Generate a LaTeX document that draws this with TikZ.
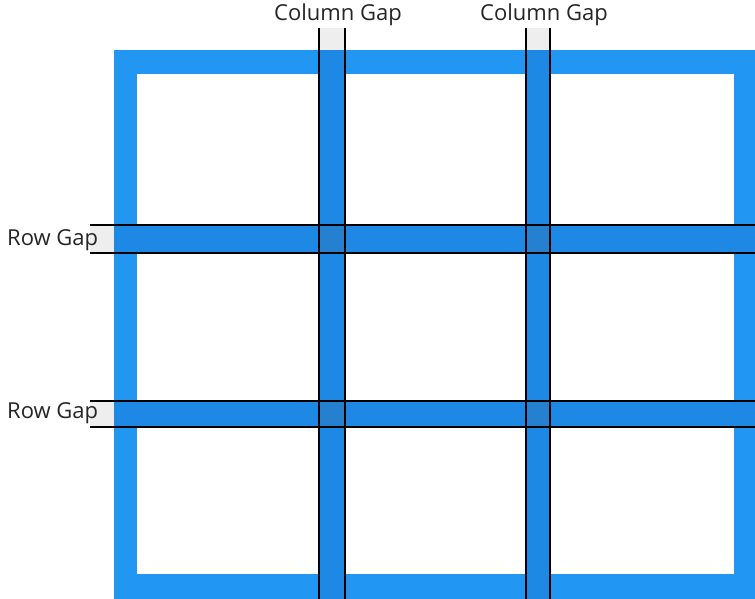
\documentclass[tikz,border=0pt]{standalone}
\usepackage{fontspec}
\setmainfont{Open Sans}
\definecolor{framec}{HTML}{2196F3}
\definecolor{gapc}{HTML}{1E88E5}
\definecolor{crossc}{HTML}{2680D0}
\definecolor{greyc}{HTML}{EEEEEE}
\begin{document}
\begin{tikzpicture}[x=1pt,y=-1pt,
  gapline/.style={draw=black,line width=2.3pt},
  lbl/.style={font=\fontsize{22}{26}\selectfont,text=black!85,inner sep=0pt}]
\useasboundingbox (0,0) rectangle (755,598);
\fill[white] (0,0) rectangle (755,598);
% frame
\fill[framec] (114,50) rectangle (760,600);
\fill[white] (137,74) rectangle (734,574);
% column gaps
\foreach \a/\b in {319/345,526/550}{
  \fill[greyc] (\a,28) rectangle (\b,50);
  \fill[gapc] (\a,50) rectangle (\b,600);
}
% row gaps
\foreach \a/\b in {225/253,401/427}{
  \fill[greyc] (90,\a) rectangle (114,\b);
  \fill[gapc] (114,\a) rectangle (760,\b);
}
% crossings
\foreach \x/\xx in {319/345,526/550}{
  \foreach \y/\yy in {225/253,401/427}{
    \fill[crossc] (\x,\y) rectangle (\xx,\yy);
  }
}
% lines
\foreach \x in {319,345,526,550}{
  \draw[gapline] (\x,28) -- (\x,600);
}
\foreach \y in {225,253,401,427}{
  \draw[gapline] (90,\y) -- (760,\y);
}
\node[lbl] (c1) at (338,15) {Column Gap};
\node[lbl] (c2) at (544,15) {Column Gap};
\node[lbl,anchor=west] (r1) at (7,240) {Row Gap};
\node[lbl,anchor=west] (r2) at (7,413) {Row Gap};
\end{tikzpicture}
\end{document}
